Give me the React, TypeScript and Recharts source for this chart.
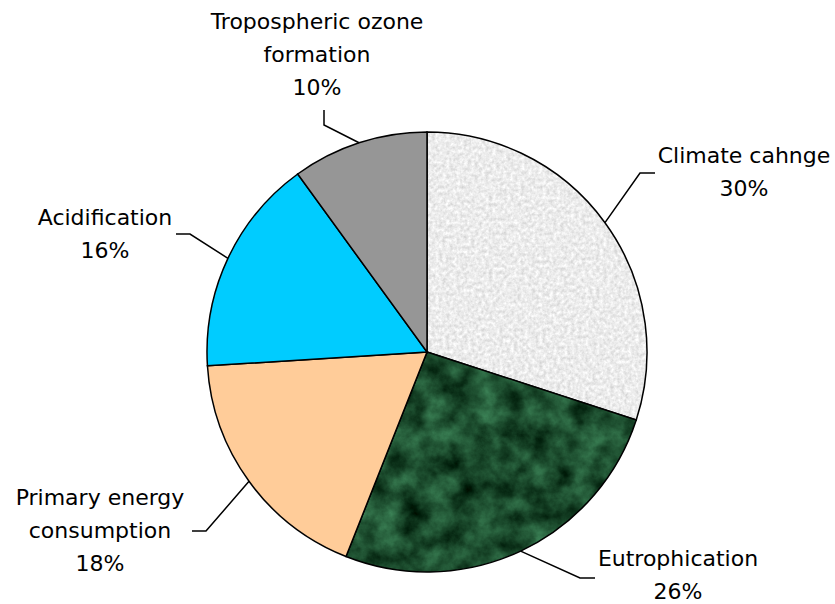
import React from 'react';
import { PieChart, Pie, Cell } from 'recharts';

const categories = [
  'Climate cahnge',
  'Eutrophication',
  'Primary energy\nconsumption',
  'Acidification',
  'Tropospheric ozone\nformation',
];
const shares = [30, 26, 18, 16, 10];
const fills = ['url(#climateTex)', 'url(#marbleTex)', '#FFCC99', '#00CCFF', '#969696'];

const data = categories.map((name, i) => ({ name, value: shares[i] }));

// leader elbow / end points and label text placement, per slice
const LAYOUT = [
  { elbow: [640, 173], end: [655, 173], tx: 744, ty: 163 },
  { elbow: [580, 578], end: [595, 578], tx: 678, ty: 566 },
  { elbow: [206, 531], end: [192, 531], tx: 100, ty: 505 },
  { elbow: [190, 234], end: [176, 234], tx: 105, ty: 225 },
  { elbow: [324, 125], end: [324, 110], tx: 317, ty: 29 },
];
const LINE_H = 33;
const RAD = Math.PI / 180;

function renderLabel(props: any) {
  const { cx, cy, midAngle, outerRadius, index, value, name } = props;
  const sx = cx + outerRadius * Math.cos(-midAngle * RAD);
  const sy = cy + outerRadius * Math.sin(-midAngle * RAD);
  const l = LAYOUT[index];
  const lines = [...String(name ?? categories[index]).split('\n'), `${value}%`];
  return (
    <g key={`lbl-${index}`}>
      <polyline
        points={`${sx},${sy} ${l.elbow[0]},${l.elbow[1]} ${l.end[0]},${l.end[1]}`}
        fill="none"
        stroke="#000"
        strokeWidth={1.5}
      />
      <text
        x={l.tx}
        y={l.ty}
        textAnchor="middle"
        fontFamily="'DejaVu Sans', Verdana, sans-serif"
        fontSize={22}
        fill="#000"
      >
        {lines.map((t, k) => (
          <tspan key={k} x={l.tx} y={l.ty + k * LINE_H}>
            {t}
          </tspan>
        ))}
      </text>
    </g>
  );
}

export default function App() {
  return (
    <div style={{ position: 'absolute', left: 0, top: 0, width: 835, height: 604, background: '#fff' }}>
      <svg width={0} height={0} style={{ position: 'absolute' }}>
        <defs>
          <filter id="speckle" x="0" y="0" width="1" height="1" colorInterpolationFilters="sRGB">
            <feTurbulence type="fractalNoise" baseFrequency="0.28" numOctaves="3" seed="4" />
            <feColorMatrix
              type="matrix"
              values="0.25 0 0 0 0.8  0.25 0 0 0 0.8  0.25 0 0 0 0.8  0 0 0 0 1"
            />
          </filter>
          <filter id="marble" x="0" y="0" width="1" height="1" colorInterpolationFilters="sRGB">
            <feTurbulence type="fractalNoise" baseFrequency="0.04" numOctaves="5" seed="7" />
            <feColorMatrix
              type="matrix"
              values="0.35 0 0 0 -0.065  0.6 0 0 0 0.0  0.45 0 0 0 -0.045  0 0 0 0 1"
            />
          </filter>
          <pattern id="climateTex" patternUnits="userSpaceOnUse" x="0" y="0" width="835" height="604">
            <rect width="835" height="604" filter="url(#speckle)" />
          </pattern>
          <pattern id="marbleTex" patternUnits="userSpaceOnUse" x="0" y="0" width="835" height="604">
            <rect width="835" height="604" filter="url(#marble)" />
          </pattern>
        </defs>
      </svg>
      <PieChart width={835} height={604} margin={{ top: 0, right: 0, bottom: 0, left: 0 }}>
        <Pie
          data={data}
          dataKey="value"
          nameKey="name"
          cx={427}
          cy={352}
          outerRadius={220}
          startAngle={90}
          endAngle={-270}
          stroke="#000"
          strokeWidth={1.5}
          label={renderLabel}
          labelLine={false}
          isAnimationActive={false}
        >
          {data.map((d, i) => (
            <Cell key={d.name} fill={fills[i]} />
          ))}
        </Pie>
      </PieChart>
    </div>
  );
}
